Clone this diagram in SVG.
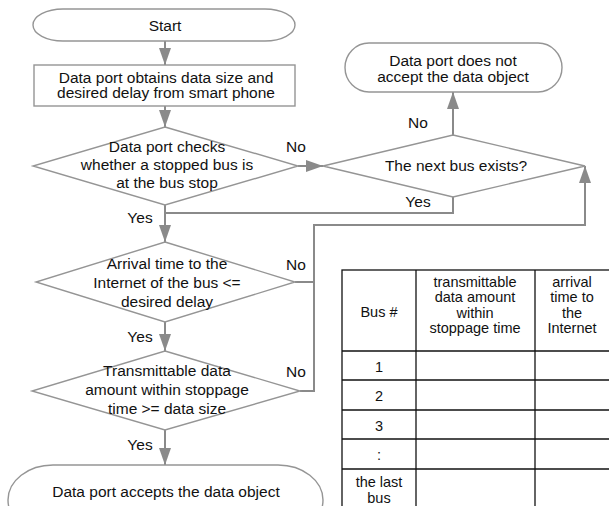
<svg xmlns="http://www.w3.org/2000/svg" width="609" height="506" viewBox="0 0 609 506">
  <style>
    text { font-family: "Liberation Sans", Arial, Helvetica, sans-serif; font-size: 15.5px; fill: #111; text-anchor: middle; }
    .shape { fill: #fff; stroke: #959595; stroke-width: 1.4; }
    .conn { fill: none; stroke: #8a8a8a; stroke-width: 2; }
    .arrow { marker-end: url(#head); }
    .grid { fill: none; stroke: #111; stroke-width: 1.3; }
    .tbl { font-size: 14.5px; }
  </style>
  <defs>
    <marker id="head" markerUnits="userSpaceOnUse" markerWidth="18" markerHeight="12" refX="17" refY="6" orient="auto">
      <path d="M0,0 L17,6 L0,12 Z" fill="#8a8a8a"/>
    </marker>
  </defs>

  <rect width="609" height="506" fill="#fff"/>

  <!-- connectors -->
  <g id="connectors">
    <line class="conn arrow" x1="165" y1="41" x2="165" y2="65"/>
    <line class="conn arrow" x1="165" y1="106" x2="165" y2="127"/>
    <line class="conn arrow" x1="298" y1="166" x2="323" y2="166"/>
    <line class="conn arrow" x1="453" y1="135" x2="453" y2="92"/>
    <polyline class="conn" points="453,197 453,213 165,213"/>
    <line class="conn arrow" x1="165" y1="205" x2="165" y2="242"/>
    <line class="conn arrow" x1="165" y1="322" x2="165" y2="351"/>
    <line class="conn arrow" x1="165" y1="430" x2="165" y2="465"/>
    <polyline class="conn" points="295,282 314,282"/>
    <polyline class="conn arrow" points="300,391 314,391 314,225 585,225 585,166"/>

    <text x="296" y="152">No</text>
    <text x="418" y="128">No</text>
    <text x="418" y="207">Yes</text>
    <text x="140" y="223">Yes</text>
    <text x="296" y="270">No</text>
    <text x="140" y="342">Yes</text>
    <text x="296" y="377">No</text>
    <text x="140" y="450">Yes</text>
  </g>

  <!-- flowchart nodes -->
  <g id="start">
    <rect class="shape" x="33" y="9" width="262" height="32" rx="30" ry="16"/>
    <text x="165" y="31">Start</text>
  </g>

  <g id="obtain">
    <rect class="shape" x="34" y="65" width="261" height="41"/>
    <text x="166" y="82.5">Data port obtains data size and</text>
    <text x="166" y="98">desired delay from smart phone</text>
  </g>

  <g id="check-stopped">
    <polygon class="shape" points="165,127 298,166 165,205 33,166"/>
    <text x="167" y="152">Data port checks</text>
    <text x="167" y="170">whether a stopped bus is</text>
    <text x="167" y="188">at the bus stop</text>
  </g>

  <g id="next-bus">
    <polygon class="shape" points="453,135 585,166 453,197 323,166"/>
    <text x="456" y="171">The next bus exists?</text>
  </g>

  <g id="reject">
    <rect class="shape" x="345" y="43" width="217" height="49" rx="24" ry="24.5"/>
    <text x="453" y="66">Data port does not</text>
    <text x="453" y="82">accept the data object</text>
  </g>

  <g id="check-arrival">
    <polygon class="shape" points="165,242 295,282 165,322 36,282"/>
    <text x="167" y="269">Arrival time to the</text>
    <text x="167" y="288">Internet of the bus &lt;=</text>
    <text x="167" y="307">desired delay</text>
  </g>

  <g id="check-amount">
    <polygon class="shape" points="165,351 300,391 165,430 32,391"/>
    <text x="167" y="376">Transmittable data</text>
    <text x="167" y="395">amount within stoppage</text>
    <text x="167" y="414">time &gt;= data size</text>
  </g>

  <g id="accept">
    <rect class="shape" x="8" y="465" width="315" height="70" rx="45" ry="35"/>
    <text x="166" y="497">Data port accepts the data object</text>
  </g>

  <!-- bus table -->
  <g id="bus-table">
    <rect class="grid" x="342" y="270" width="270" height="250"/>
    <line class="grid" x1="416" y1="270" x2="416" y2="520"/>
    <line class="grid" x1="535" y1="270" x2="535" y2="520"/>
    <line class="grid" x1="342" y1="351" x2="612" y2="351"/>
    <line class="grid" x1="342" y1="380" x2="612" y2="380"/>
    <line class="grid" x1="342" y1="410" x2="612" y2="410"/>
    <line class="grid" x1="342" y1="439" x2="612" y2="439"/>
    <line class="grid" x1="342" y1="469" x2="612" y2="469"/>

    <text class="tbl" x="379" y="317">Bus #</text>
    <text class="tbl" x="475" y="286.5">transmittable</text>
    <text class="tbl" x="475" y="302">data amount</text>
    <text class="tbl" x="475" y="317.5">within</text>
    <text class="tbl" x="475" y="333">stoppage time</text>
    <text class="tbl" x="572" y="286.5">arrival</text>
    <text class="tbl" x="572" y="302">time to</text>
    <text class="tbl" x="572" y="317.5">the</text>
    <text class="tbl" x="572" y="333">Internet</text>

    <text class="tbl" x="379" y="372">1</text>
    <text class="tbl" x="379" y="401">2</text>
    <text class="tbl" x="379" y="431">3</text>
    <text class="tbl" x="379" y="460">:</text>
    <text class="tbl" x="379" y="487">the last</text>
    <text class="tbl" x="379" y="503">bus</text>
  </g>
</svg>
